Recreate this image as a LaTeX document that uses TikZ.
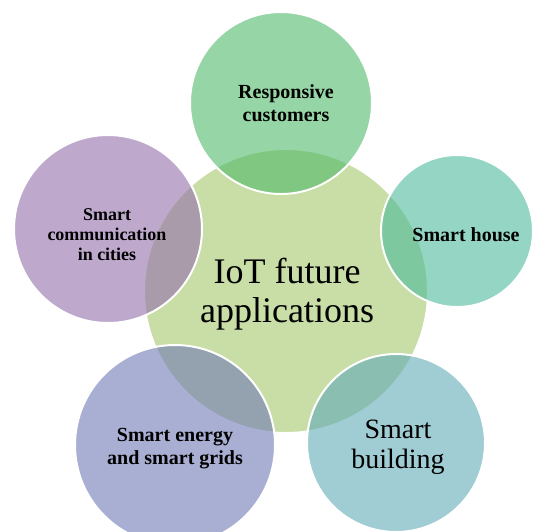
\documentclass[tikz,border=0pt]{standalone}
\usepackage{fontspec}
\setmainfont{Liberation Serif}
\definecolor{cC}{RGB}{201,221,166}
\definecolor{cTop}{RGB}{80,185,105}
\definecolor{cHouse}{RGB}{77,187,155}
\definecolor{cComm}{RGB}{148,112,173}
\definecolor{cEnergy}{RGB}{113,123,182}
\definecolor{cBuild}{RGB}{97,170,183}
\tikzset{
  bubble/.style={circle, draw=white, line width=2pt, inner sep=0pt, fill opacity=0.6, draw opacity=1},
  hub/.style={circle, draw=white, line width=2pt, inner sep=0pt, fill=cC},
  boldlbl/.style={align=center, font=\fontsize{20}{23}\selectfont\bfseries, inner sep=0pt},
  bigl/.style={align=center, font=\fontsize{28}{30}\selectfont, inner sep=0pt},
  hubl/.style={align=center, font=\fontsize{36}{39}\selectfont, inner sep=0pt}
}
\begin{document}
\begin{tikzpicture}[x=1pt,y=-1pt]
\useasboundingbox (0,0) rectangle (534,531);
\clip (0,0) rectangle (534,531);
\fill[white] (0,0) rectangle (534,531);
\node[hub, minimum size=284pt] (hubc) at (286,291) {};
\node[bubble, fill=cTop, minimum size=182pt] (topc) at (281,103) {};
\node[bubble, fill=cComm, minimum size=188pt] (commc) at (108,229) {};
\node[bubble, fill=cHouse, minimum size=152pt] (housec) at (457,231) {};
\node[bubble, fill=cEnergy, minimum size=200pt] (energyc) at (175,445) {};
\node[bubble, fill=cBuild, minimum size=178pt] (buildc) at (396,443) {};
\node[hubl] (hubt) at (287,294) {IoT future\\applications};
\node[boldlbl] (topt) at (286,103) {Responsive\\customers};
\node[boldlbl, font=\fontsize{18}{20}\selectfont\bfseries] (commt) at (107,235) {Smart\\communication\\in cities};
\node[boldlbl] (houset) at (466,235) {Smart house};
\node[boldlbl] (energyt) at (175,449) {Smart energy\\and smart grids};
\node[bigl] (buildt) at (398,447) {Smart\\building};
\end{tikzpicture}
\end{document}
